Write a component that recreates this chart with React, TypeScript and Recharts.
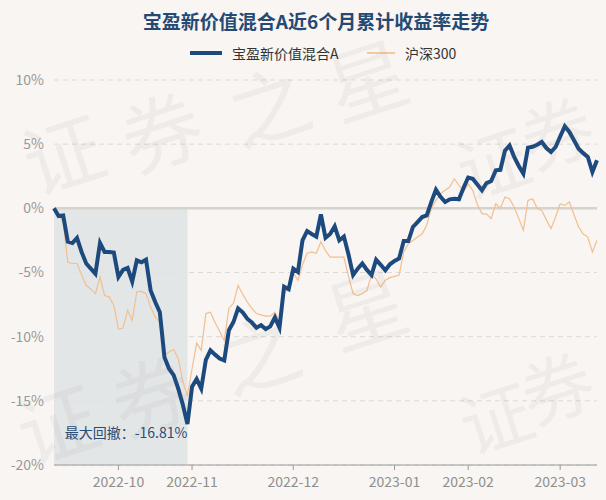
import { LineChart, Line, XAxis, YAxis, CartesianGrid, ReferenceLine, ReferenceArea, ReferenceDot } from 'recharts';

// trading days per month, 2022-09 .. 2023-03
const sepDays = [13, 14, 15, 16, 19, 20, 21, 22, 23, 26, 27, 28, 29, 30];
const octDays = [10, 11, 12, 13, 14, 17, 18, 19, 20, 21, 24, 25, 26, 27, 28, 31];
const novDays = [1, 2, 3, 4, 7, 8, 9, 10, 11, 14, 15, 16, 17, 18, 21, 22, 23, 24, 25, 28, 29, 30];
const decDays = [1, 2, 5, 6, 7, 8, 9, 12, 13, 14, 15, 16, 19, 20, 21, 22, 23, 26, 27, 28, 29, 30];
const janDays = [3, 4, 5, 6, 9, 10, 11, 12, 13, 16, 17, 18, 19, 20, 30, 31];
const febDays = [1, 2, 3, 6, 7, 8, 9, 10, 13, 14, 15, 16, 17, 20, 21, 22, 23, 24, 27, 28];
const marDays = [1, 2, 3, 6, 7, 8, 9, 10, 13];

const months: [string, number[]][] = [
  ['2022-09', sepDays],
  ['2022-10', octDays],
  ['2022-11', novDays],
  ['2022-12', decDays],
  ['2023-01', janDays],
  ['2023-02', febDays],
  ['2023-03', marDays],
];

// 宝盈新价值混合A cumulative return (%)
const fund = [
  0, -0.6, -0.55, -2.6, -2.7, -2.3, -3.4, -4.3, -4.7, -5.1,
  -2.7, -3.4, -3.4, -3.45, -5.35, -4.8, -4.65, -5.7, -4.05, -4.2,
  -4.0, -6.4, -7.3, -8.1, -11.6, -12.5, -13.0, -14.05, -15.3, -16.81,
  -13.9, -13.3, -14.05, -11.8, -11.07, -11.4, -11.7, -11.85, -9.5, -8.86,
  -7.8, -8.1, -8.6, -8.9, -9.3, -9.1, -9.4, -9.2, -8.5, -9.3,
  -6.1, -6.3, -4.7, -4.96, -2.5, -1.77, -2.0, -2.2, -0.47, -2.3,
  -2.0, -1.4, -2.5, -2.2, -3.6, -5.2, -4.7, -4.3, -4.8, -5.2,
  -4.0, -4.4, -4.83, -4.36, -4.1, -3.9, -2.55, -2.55, -1.45, -1.07,
  -0.68, -0.55, 0.5, 1.45, 0.9, 0.49, 0.7, 0.75, 0.7, 1.6,
  2.4, 2.3, 1.85, 1.4, 1.97, 2.13, 2.96, 3.0, 4.5, 4.9,
  4.0, 3.3, 2.7, 4.73, 4.8, 4.95, 5.17, 4.7, 4.39, 4.78,
  5.6, 6.39, 5.95, 5.3, 4.65, 4.3, 4.0, 2.83, 3.74,
];

// 沪深300 cumulative return (%)
const hs300 = [
  0, -0.5, -1.1, -4.2, -4.3, -4.3, -5.2, -6.0, -6.3, -6.65,
  -5.35, -6.8, -6.9, -7.56, -9.4, -9.33, -7.95, -8.73, -6.5, -6.47,
  -6.65, -7.7, -8.47, -8.86, -11.46, -11.2, -11.0, -11.7, -13.5, -14.6,
  -12.5, -10.5, -11.07, -8.2, -8.1, -8.9, -9.6, -10.3, -7.8, -7.4,
  -6.0, -6.7, -7.3, -7.8, -8.2, -8.3, -8.4, -8.4, -8.1, -8.8,
  -6.6, -6.3, -5.0, -5.6, -4.4, -3.5, -3.4, -3.5, -2.6, -3.3,
  -3.8, -3.8, -3.8, -3.8, -5.3, -6.65, -6.8, -6.65, -6.4, -5.2,
  -5.5, -6.13, -5.6, -5.4, -5.3, -5.2, -3.4, -2.75, -2.5, -2.24,
  -2.0, -1.3, 0.0, 0.62, 1.15, 1.4, 1.66, 2.3, 1.8, 1.3,
  1.9, 1.4, 0.3, -0.41, -0.45, -0.8, 0.36, 0.0, 0.88, 0.75,
  0.1, -0.8, -1.7, 0.62, 0.75, 0.0, -0.16, -0.9, -1.58, -0.68,
  0.36, 0.23, 0.49, -0.5, -1.45, -2.0, -2.24, -3.4, -2.5,
];

const yTicks = [-20, -15, -10, -5, 0, 5, 10];
const maxDrawdown = -16.81;

const pad = (n: number) => (n < 10 ? `0${n}` : `${n}`);
const dates = months.flatMap(([m, days]) => days.map((d) => `${m}-${pad(d)}`));
const monthTicks = months.slice(1).map(([m, days]) => `${m}-${pad(days[0])}`);

const data = dates.map((date, i) => ({ date, fund: fund[i], hs300: hs300[i] }));
const troughDate = dates[fund.indexOf(maxDrawdown)];

const font = '"Noto Sans CJK SC", "Noto Sans", sans-serif';

// watermark glyphs (centre points, size)
const watermark = [
  { ch: '证', x: 62, y: 150, s: 80 }, { ch: '券', x: 160, y: 128, s: 80 }, { ch: '之', x: 268, y: 102, s: 80 }, { ch: '星', x: 366, y: 76, s: 80 },
  { ch: '证', x: 56, y: 420, s: 80 }, { ch: '券', x: 150, y: 392, s: 80 }, { ch: '之', x: 258, y: 350, s: 80 }, { ch: '星', x: 365, y: 305, s: 80 },
  { ch: '证', x: 492, y: 160, s: 72 }, { ch: '券', x: 556, y: 130, s: 72 },
  { ch: '证', x: 495, y: 415, s: 72 }, { ch: '券', x: 556, y: 385, s: 72 },
];

const DrawdownLabel = (props: any) => {
  const { viewBox } = props;
  const x = viewBox.x + viewBox.width / 2;
  const y = viewBox.y + viewBox.height / 2;
  return (
    <text x={x} y={y + 14} textAnchor="end" fill="#2b4c74" fontSize={14} fontFamily={font}>
      最大回撤：{maxDrawdown.toFixed(2)}%
    </text>
  );
};

const App = () => {
  return (
    <div style={{ position: 'absolute', left: 0, top: 0, width: 606, height: 500, background: '#f8f5f2', fontFamily: font, overflow: 'hidden' }}>
      <div style={{ position: 'absolute', left: 0, top: 7, width: 632, textAlign: 'center', fontSize: 19, fontWeight: 'bold', color: '#244a74' }}>
        宝盈新价值混合A近6个月累计收益率走势
      </div>
      <div style={{ position: 'absolute', top: 43, left: 0, width: 606, height: 20, fontSize: 14, color: '#333' }}>
        <div style={{ position: 'absolute', left: 190, top: 8, width: 32, height: 4, background: '#1d4a7e' }} />
        <div style={{ position: 'absolute', left: 232, top: 0, lineHeight: '20px' }}>宝盈新价值混合A</div>
        <div style={{ position: 'absolute', left: 367, top: 9, width: 28, height: 2, background: '#f4c89f' }} />
        <div style={{ position: 'absolute', left: 405, top: 0, lineHeight: '20px' }}>沪深300</div>
      </div>
      <LineChart width={606} height={500} data={data} margin={{ top: 80, right: 9, bottom: 5, left: 0 }}>
        <CartesianGrid vertical={false} stroke="#dcd9d6" strokeDasharray="5 4" />
        <ReferenceArea x1={dates[0]} x2={troughDate} y1={-20} y2={0} fill="#dfe3e5" fillOpacity={0.85} stroke="none" />
        <XAxis
          dataKey="date"
          ticks={monthTicks}
          tickFormatter={(d: string) => d.slice(0, 7)}
          interval={0}
          stroke="#9a9a9a"
          tickSize={5}
          tickMargin={7}
          tick={{ fill: '#8f8f8f', fontSize: 14, fontFamily: font }}
          height={30}
        />
        <YAxis
          domain={[-20, 10]}
          ticks={yTicks}
          tickFormatter={(v: number) => `${v}%`}
          axisLine={false}
          tickLine={false}
          tickMargin={4}
          width={54}
          tick={{ fill: '#999', fontSize: 14, fontFamily: font }}
        />
        <ReferenceLine y={0} stroke="#d6d2ce" strokeWidth={2.5} />
        <Line type="linear" dataKey="hs300" stroke="#f2bf8f" strokeWidth={1.2} dot={false} isAnimationActive={false} />
        <Line type="linear" dataKey="fund" stroke="#1d4a7e" strokeWidth={4} dot={false} isAnimationActive={false} />
        <ReferenceDot x={troughDate} y={maxDrawdown} r={0} fill="none" stroke="none" label={<DrawdownLabel />} />
      </LineChart>
      {watermark.map((w, i) => (
        <div
          key={i}
          style={{
            position: 'absolute',
            left: w.x,
            top: w.y,
            fontSize: w.s,
            color: 'rgba(120,120,120,0.07)',
            transform: 'translate(-50%, -50%) rotate(-18deg)',
            whiteSpace: 'nowrap',
            pointerEvents: 'none',
            lineHeight: 1,
          }}
        >
          {w.ch}
        </div>
      ))}
    </div>
  );
};

export default App;
